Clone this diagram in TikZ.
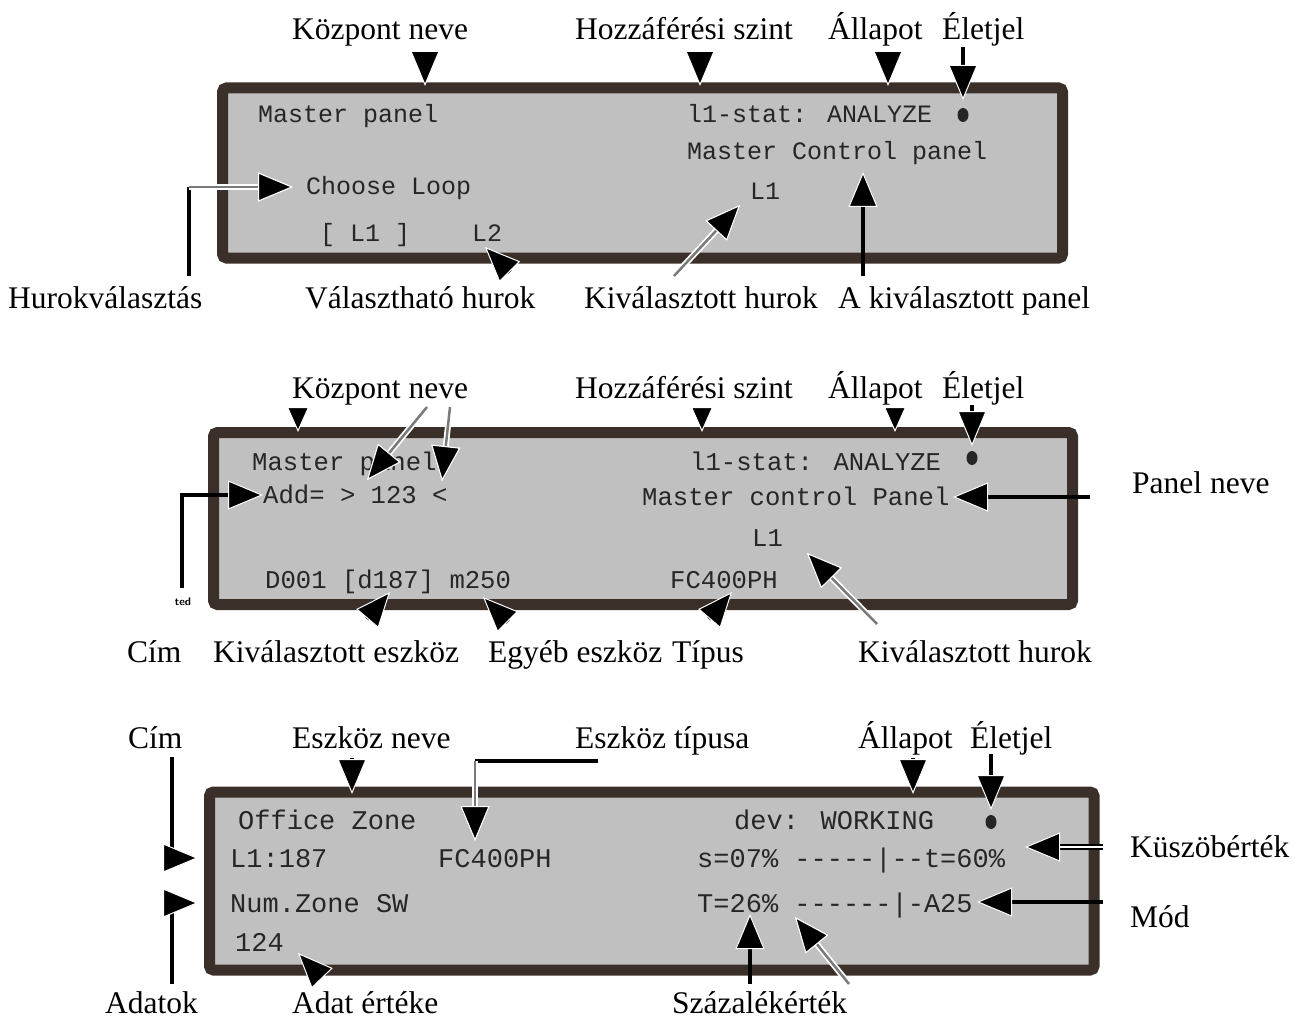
\documentclass[tikz,border=0pt]{standalone}
\usepackage{fontspec}
\setmainfont{Liberation Serif}
\newfontfamily\lcdfont{Liberation Mono}
\usetikzlibrary{arrows.meta}
\definecolor{lcdbg}{HTML}{C0C0C0}
\definecolor{frame}{HTML}{3A3029}
\definecolor{lcdtxt}{HTML}{262626}
\definecolor{halogray}{HTML}{7A7A7A}
\tikzset{
  BigTri/.tip={Triangle[length=35pt,width=29pt,color=white,fill=black,line width=1pt]},
  SmallTri/.tip={Triangle[length=25pt,width=22pt,color=white,fill=black,line width=1pt]},
  panel/.style={draw=frame, line width=11pt, fill=lcdbg, rounded corners=4pt},
  lcdA/.style={font=\lcdfont\fontsize{25}{25}\selectfont, text=lcdtxt, inner sep=0pt, anchor=base west},
  lcdB/.style={font=\lcdfont\fontsize{25.6}{25.6}\selectfont, text=lcdtxt, inner sep=0pt, anchor=base west},
  lcdC/.style={font=\lcdfont\fontsize{27}{27}\selectfont, text=lcdtxt, inner sep=0pt, anchor=base west},
  lbl/.style={font=\fontsize{31.5}{36}\selectfont, inner sep=0pt, anchor=base west},
  blk/.style={draw=black, line width=4.5pt},
  blkthin/.style={draw=black, line width=3.5pt},
  halo/.style={draw=halogray, line width=2.5pt, preaction={draw=white, line width=6pt}},
  dbl/.style={draw=black, line width=1.6pt, double=white, double distance=2pt},
  beat/.style={fill=lcdtxt},
}
\begin{document}
\begin{tikzpicture}[x=1pt,y=-1pt]
\useasboundingbox (0,0) rectangle (1295,1019);

% ================= Panel 1 =================
\draw[panel] (222.5,88) rectangle (1062.5,258);
\node[lcdA] (a1) at (258,123) {Master panel};
\node[lcdA] (a2) at (687,123) {l1-stat: ANALYZE};
\node[lcdA] (a3) at (687,160) {Master Control panel};
\node[lcdA] (a4) at (306,195) {Choose Loop};
\node[lcdA] (a5) at (750,200) {L1};
\node[lcdA] (a6) at (320,241) {[ L1 ]};
\node[lcdA] (a7) at (472,241) {L2};
\fill[beat] (963,115) circle[x radius=5.5pt, y radius=7pt];

\node[lbl] (t1) at (292,40) {Központ neve};
\node[lbl] (t2) at (575,40) {Hozzáférési szint};
\node[lbl] (t3) at (828,40) {Állapot};
\node[lbl] (t4) at (942,40) {Életjel};
\node[lbl] (b1) at (8,308) {Hurokválasztás};
\node[lbl] (b2) at (305,308) {Választható hurok};
\node[lbl] (b3) at (584,308) {Kiválasztott hurok};
\node[lbl] (b4) at (838,308) {A kiválasztott panel};

\coordinate (c1s) at (425,51);  \coordinate (c1e) at (425,86);
\coordinate (c2s) at (700,51);  \coordinate (c2e) at (700,86);
\coordinate (c3s) at (888,51);  \coordinate (c3e) at (888,86);
\coordinate (c4s) at (963,47);  \coordinate (c4e) at (963,100);
\draw[blk,-BigTri] (c1s) -- (c1e);
\draw[blk,-BigTri] (c2s) -- (c2e);
\draw[blk,-BigTri] (c3s) -- (c3e);
\draw[blkthin,-BigTri] (c4s) -- (c4e);

\coordinate (h1) at (189,276); \coordinate (h2) at (189,187); \coordinate (h3) at (293,187);
\draw[blkthin] (h1) -- (h2);
\draw[halo,-BigTri] (h2) -- (h3);
\coordinate (v1) at (510,272); \coordinate (v2) at (485,247);
\draw[blk,-BigTri] (v1) -- (v2);
\coordinate (k1) at (674,276); \coordinate (k2) at (740,205);
\draw[halo,-BigTri] (k1) -- (k2);
\coordinate (p1) at (863,276); \coordinate (p2) at (863,172);
\draw[blk,-BigTri] (p1) -- (p2);

% ================= Panel 2 =================
\draw[panel] (213.5,432.5) rectangle (1072.5,604.5);
\node[lcdB] (d1) at (252,470) {Master panel};
\node[lcdB] (d2) at (690,470) {l1-stat: ANALYZE};
\node[lcdB] (d3) at (263,503) {Add= > 123 <};
\node[lcdB] (d4) at (642,505) {Master control Panel};
\node[lcdB] (d5) at (752,546) {L1};
\node[lcdB] (d6) at (265,588) {D001 [d187] m250};
\node[lcdB] (d7) at (670,588) {FC400PH};
\fill[beat] (972,458) circle[x radius=5.5pt, y radius=7pt];
\node[font=\sffamily\bfseries\fontsize{11}{11}\selectfont, inner sep=0pt] (ted) at (183,602) {ted};

\node[lbl] (u1) at (292,398) {Központ neve};
\node[lbl] (u2) at (575,398) {Hozzáférési szint};
\node[lbl] (u3) at (828,398) {Állapot};
\node[lbl] (u4) at (942,398) {Életjel};
\node[lbl] (pn) at (1132,493) {Panel neve};
\node[lbl] (w1) at (127,662) {Cím};
\node[lbl] (w2) at (213,662) {Kiválasztott eszköz};
\node[lbl] (w3) at (488,662) {Egyéb eszköz};
\node[lbl] (w4) at (672,662) {Típus};
\node[lbl] (w5) at (858,662) {Kiválasztott hurok};

\coordinate (e0s) at (298,407); \coordinate (e0e) at (298,432);
\draw[blk,-SmallTri] (e0s) -- (e0e);
\coordinate (e1s) at (427,407); \coordinate (e1e) at (367,480);
\draw[halo,-BigTri] (e1s) -- (e1e);
\coordinate (e2s) at (450,407); \coordinate (e2e) at (442,481);
\draw[halo,-BigTri] (e2s) -- (e2e);
\coordinate (e3s) at (702,407); \coordinate (e3e) at (702,432);
\draw[blk,-SmallTri] (e3s) -- (e3e);
\coordinate (e4s) at (895,407); \coordinate (e4e) at (895,432);
\draw[blk,-SmallTri] (e4s) -- (e4e);
\coordinate (e5s) at (972,405); \coordinate (e5e) at (972,446);
\draw[blkthin,-BigTri] (e5s) -- (e5e);

\coordinate (pns) at (1090,497); \coordinate (pne) at (953,497);
\draw[blk,-BigTri] (pns) -- (pne);
\coordinate (cm1) at (182,588); \coordinate (cm2) at (182,495); \coordinate (cm3) at (263,495);
\draw[blk,-BigTri] (cm1) -- (cm2) -- (cm3);

\coordinate (f1s) at (367,619); \coordinate (f1e) at (390,592);
\draw[blk,-BigTri] (f1s) -- (f1e);
\coordinate (f2s) at (508,622); \coordinate (f2e) at (483,597);
\draw[blk,-BigTri] (f2s) -- (f2e);
\coordinate (f3s) at (709,619); \coordinate (f3e) at (732,592);
\draw[blk,-BigTri] (f3s) -- (f3e);
\coordinate (f4s) at (877,624); \coordinate (f4e) at (807,553);
\draw[halo,-BigTri] (f4s) -- (f4e);

% ================= Panel 3 =================
\draw[panel] (209.5,792) rectangle (1094,970);
\node[lcdC] (g1) at (238,829) {Office Zone};
\node[lcdC] (g2) at (734,829) {dev: WORKING};
\node[lcdC] (g3) at (230,867) {L1:187};
\node[lcdC] (g4) at (438,867) {FC400PH};
\node[lcdC] (g5) at (697,867) {s=07\% -----|--t=60\%};
\node[lcdC] (g6) at (230,912) {Num.Zone SW};
\node[lcdC] (g7) at (697,912) {T=26\% ------|-A25};
\node[lcdC] (g8) at (235,951) {124};
\fill[beat] (991,822) circle[x radius=5.5pt, y radius=7pt];

\node[lbl] (x1) at (128,748) {Cím};
\node[lbl] (x2) at (292,748) {Eszköz neve};
\node[lbl] (x3) at (575,748) {Eszköz típusa};
\node[lbl] (x4) at (858,748) {Állapot};
\node[lbl] (x5) at (970,748) {Életjel};
\node[lbl] (ks) at (1130,857) {Küszöbérték};
\node[lbl] (md) at (1130,927) {Mód};
\node[lbl] (y1) at (105,1013) {Adatok};
\node[lbl] (y2) at (292,1013) {Adat értéke};
\node[lbl] (y3) at (672,1013) {Százalékérték};

\coordinate (q1) at (172,757); \coordinate (q2) at (172,858);
\draw[blkthin] (q1) -- (q2);
\coordinate (q3) at (163,858); \coordinate (q4) at (198,858);
\draw[blkthin,-BigTri] (q3) -- (q4);
\coordinate (q5) at (172,984); \coordinate (q6) at (172,903);
\draw[blkthin] (q5) -- (q6);
\coordinate (q7) at (163,903); \coordinate (q8) at (198,903);
\draw[blkthin,-BigTri] (q7) -- (q8);

\coordinate (n1) at (352,758); \coordinate (n2) at (352,794);
\draw[blk,-BigTri] (n1) -- (n2);
\coordinate (et1) at (598,761); \coordinate (et2) at (475,761); \coordinate (et3) at (475,841);
\draw[blk] (et1) -- (et2);
\draw[halo,-BigTri] (et2) -- (et3);
\coordinate (s1) at (913,758); \coordinate (s2) at (913,794);
\draw[blk,-BigTri] (s1) -- (s2);
\coordinate (l1) at (991,754); \coordinate (l2) at (991,810);
\draw[blkthin,-BigTri] (l1) -- (l2);

\coordinate (kz1) at (1103,847); \coordinate (kz2) at (1025,847);
\draw[dbl,-BigTri] (kz1) -- (kz2);
\coordinate (mo1) at (1103,902); \coordinate (mo2) at (977,902);
\draw[blk,-BigTri] (mo1) -- (mo2);

\coordinate (sz1) at (750,984); \coordinate (sz2) at (750,914);
\draw[blk,-BigTri] (sz1) -- (sz2);
\coordinate (sz3) at (849,984); \coordinate (sz4) at (795,917);
\draw[halo,-BigTri] (sz3) -- (sz4);
\coordinate (ae1) at (322,978); \coordinate (ae2) at (298,953);
\draw[blk,-BigTri] (ae1) -- (ae2);
\end{tikzpicture}
\end{document}
